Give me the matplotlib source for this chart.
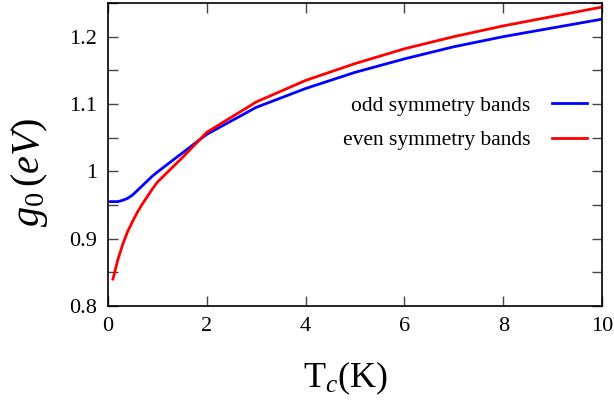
import numpy as np
import matplotlib.pyplot as plt
from matplotlib.ticker import MultipleLocator

plt.rcParams['font.family'] = 'Liberation Serif'
plt.rcParams['mathtext.fontset'] = 'custom'
plt.rcParams['mathtext.rm'] = 'Liberation Serif'
plt.rcParams['mathtext.it'] = 'Liberation Serif:italic'

# odd symmetry bands (blue)
tc_odd = [0.05, 0.2, 0.3, 0.4, 0.5, 0.6, 0.7, 0.8, 0.9, 1.0, 1.5, 2,
          3, 4, 5, 6, 7, 8, 9, 10]
g_odd = [0.955, 0.955, 0.957, 0.960, 0.965, 0.972, 0.979, 0.986, 0.993, 0.999,
         1.027, 1.055, 1.095, 1.123, 1.147, 1.167, 1.185, 1.2, 1.213, 1.226]

# even symmetry bands (red)
tc_even = [0.1, 0.2, 0.3, 0.4, 0.5, 0.6, 0.7, 0.8, 0.9, 1.0, 1.5, 2,
           3, 4, 5, 6, 7, 8, 9, 10]
g_even = [0.840, 0.869, 0.892, 0.911, 0.926, 0.940, 0.952, 0.963, 0.974, 0.984,
          1.02, 1.058, 1.103, 1.135, 1.16, 1.182, 1.2, 1.216, 1.23, 1.244]

fig = plt.figure(figsize=(6.14, 4.01), dpi=100)
ax = fig.add_axes([108/614, 1-306/401, (602-108)/614, (306-3)/401])

ax.plot(tc_odd, g_odd, color='#0000ff', lw=2)
ax.plot(tc_even, g_even, color='#ff0000', lw=2)

ax.set_xlim(0, 10)
ax.set_ylim(0.8, 1.25)
ax.xaxis.set_major_locator(MultipleLocator(2))
ax.yaxis.set_minor_locator(MultipleLocator(0.05))
ax.set_yticks([0.8, 0.9, 1.0, 1.1, 1.2])
ax.set_yticklabels(['0.8', '0.9', '1', '1.1', '1.2'])
ax.tick_params(which='both', direction='in', top=True, right=True,
               labelsize=16, width=1, color='#444444')
ax.tick_params(which='major', length=7, pad=8)
ax.tick_params(which='minor', length=7)
for s in ax.spines.values():
    s.set_linewidth(1.2)

# legend drawn like gnuplot: text on left, sample on right
ax.text(0.855, 0.66, 'odd symmetry bands', transform=ax.transAxes,
        ha='right', va='center', fontsize=15.5)
ax.text(0.855, 0.545, 'even symmetry bands', transform=ax.transAxes,
        ha='right', va='center', fontsize=15.5)
ax.plot([0.898, 0.969], [0.67, 0.67], color='#0000ff', lw=2, transform=ax.transAxes)
ax.plot([0.898, 0.969], [0.555, 0.555], color='#ff0000', lw=2, transform=ax.transAxes)

fig.text(30/614, 1-172/401, r'$g_0\,(eV)$', rotation=90, ha='center', va='center',
         fontsize=29)
fig.text(345/614, 1-378/401, r'T$_c$(K)', ha='center', va='center', fontsize=26)

fig.savefig('out.png', dpi=100)
